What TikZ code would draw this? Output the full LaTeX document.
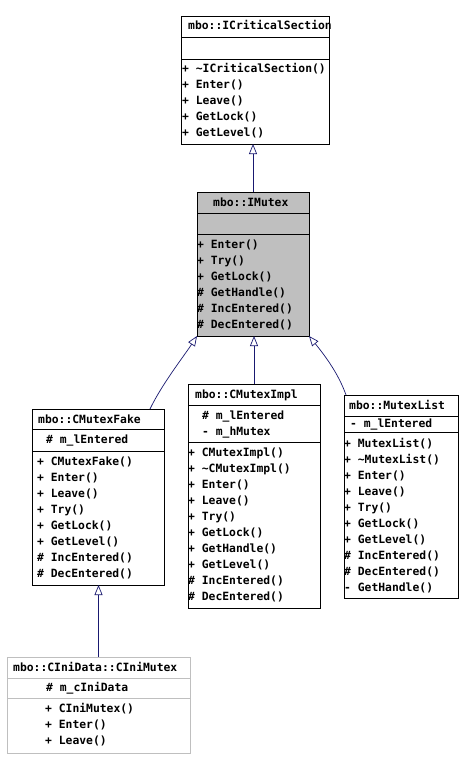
\documentclass[tikz,border=0pt]{standalone}
\usepackage{fontspec}
\usetikzlibrary{arrows.meta}
\newfontfamily\umlmono{DejaVu Sans Mono}
\definecolor{edgeblue}{HTML}{191970}
\definecolor{boxgray}{HTML}{BFBFBF}

\begin{document}
\begin{tikzpicture}[x=1bp,y=-1bp,
    classbox/.style={draw=black,line width=0.8bp,anchor=north west,inner sep=0,outer sep=0},
    member/.style={anchor=base west,inner sep=0,font=\umlmono\bfseries\fontsize{11.4}{16}\selectfont},
    inherit/.style={draw=edgeblue,line width=0.7bp,-{Triangle[open,length=10bp,width=8bp]}}]
                \useasboundingbox (0,0) rectangle (463,769);

                % class boxes
                \node[classbox,minimum width=148bp,minimum height=128bp] (icrit) at (181,16) {};
                \node[classbox,fill=boxgray,minimum width=112bp,minimum height=144bp] (imutex) at (197,192) {};
                \node[classbox,minimum width=132bp,minimum height=176bp] (cfake) at (32,409) {};
                \node[classbox,minimum width=132bp,minimum height=224bp] (cimpl) at (188,384) {};
                \node[classbox,minimum width=114bp,minimum height=203bp] (mlist) at (344,395) {};
                \node[classbox,draw=boxgray,minimum width=183bp,minimum height=96bp] (inimutex) at (7,657) {};

                % compartments
                \draw (icrit.west |- 0,37) -- (icrit.east |- 0,37) (icrit.west |- 0,59) -- (icrit.east |- 0,59);
                \draw (imutex.west |- 0,213) -- (imutex.east |- 0,213) (imutex.west |- 0,234) -- (imutex.east |- 0,234);
                \draw (cfake.west |- 0,429) -- (cfake.east |- 0,429) (cfake.west |- 0,451) -- (cfake.east |- 0,451);
                \draw (cimpl.west |- 0,405) -- (cimpl.east |- 0,405) (cimpl.west |- 0,442) -- (cimpl.east |- 0,442);
                \draw (mlist.west |- 0,416) -- (mlist.east |- 0,416) (mlist.west |- 0,432) -- (mlist.east |- 0,432);
                \draw[boxgray] (inimutex.west |- 0,678) -- (inimutex.east |- 0,678) (inimutex.west |- 0,698) -- (inimutex.east |- 0,698);

                % mbo::ICriticalSection
                \node[member] (icrittitle) at (188,30) {mbo::ICriticalSection};
                \foreach \m [count=\i] in {+ \textasciitilde ICriticalSection(),+ Enter(),+ Leave(),+ GetLock(),+ GetLevel()}
                    \node[member] (icritop\i) at (182,{56.5+16*\i}) {\m};

                % mbo::IMutex
                \node[member] (imutextitle) at (213,206) {mbo::IMutex};
                \foreach \m [count=\i] in {+ Enter(),+ Try(),+ GetLock(),\# GetHandle(),\# IncEntered(),\# DecEntered()}
                    \node[member] (imutexop\i) at (197,{232+16*\i}) {\m};

                % mbo::CMutexFake
                \node[member] (cfaketitle) at (38,423) {mbo::CMutexFake};
                \node[member] (cfakeattr1) at (46,443) {\# m\_lEntered};
                \foreach \m [count=\i] in {+ CMutexFake(),+ Enter(),+ Leave(),+ Try(),+ GetLock(),+ GetLevel(),\# IncEntered(),\# DecEntered()}
                    \node[member] (cfakeop\i) at (37,{449+16*\i}) {\m};

                % mbo::CMutexImpl
                \node[member] (cimpltitle) at (195,398) {mbo::CMutexImpl};
                \foreach \a [count=\i] in {\# m\_lEntered,- m\_hMutex}
                    \node[member] (cimplattr\i) at (202,{403+16*\i}) {\a};
                \foreach \m [count=\i] in {+ CMutexImpl(),+ \textasciitilde CMutexImpl(),+ Enter(),+ Leave(),+ Try(),+ GetLock(),+ GetHandle(),+ GetLevel(),\# IncEntered(),\# DecEntered()}
                    \node[member] (cimplop\i) at (188,{440+16*\i}) {\m};

                % mbo::MutexList
                \node[member] (mlisttitle) at (349,409) {mbo::MutexList};
                \node[member] (mlistattr1) at (350,427) {- m\_lEntered};
                \foreach \m [count=\i] in {+ MutexList(),+ \textasciitilde MutexList(),+ Enter(),+ Leave(),+ Try(),+ GetLock(),+ GetLevel(),\# IncEntered(),\# DecEntered(),- GetHandle()}
                    \node[member] (mlistop\i) at (344,{431+16*\i}) {\m};

                % mbo::CIniData::CIniMutex
                \node[member] (initle) at (13,671) {mbo::CIniData::CIniMutex};
                \node[member] (iniattr1) at (46,691) {\# m\_cIniData};
                \foreach \m [count=\i] in {+ CIniMutex(),+ Enter(),+ Leave()}
                    \node[member] (iniop\i) at (45,{696+16*\i}) {\m};

                % inheritance
                \coordinate (fakein) at (150,409);
                \coordinate (listin) at (346,395);
                \draw[inherit] (imutex.north) -- (imutex.north |- icrit.south);
                \draw[inherit] (cimpl.north) -- (cimpl.north |- imutex.south);
                \draw[inherit] (fakein) .. controls (162,384) and (184,356) .. (imutex.south west);
                \draw[inherit] (listin) .. controls (338,372) and (322,352) .. (imutex.south east);
                \draw[inherit] (inimutex.north) -- (inimutex.north |- cfake.south);
\end{tikzpicture}
\end{document}
